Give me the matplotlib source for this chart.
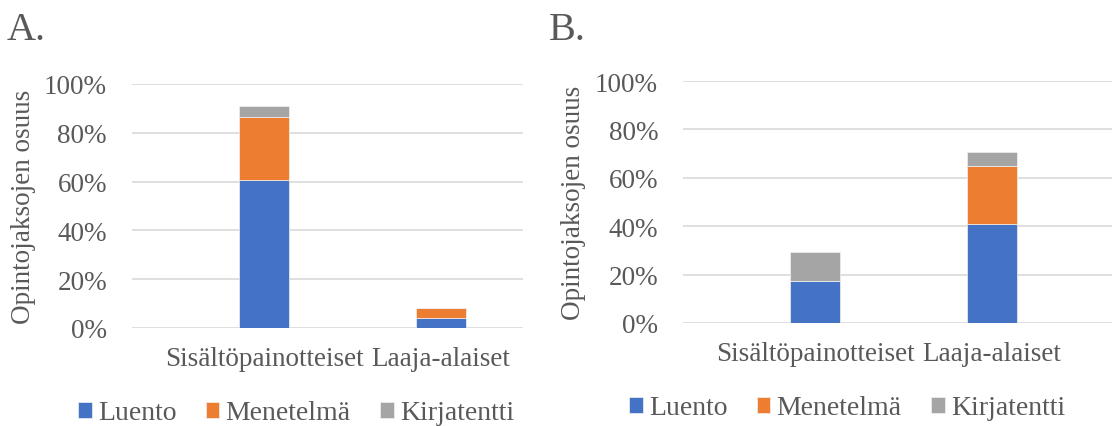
import matplotlib.pyplot as plt
import numpy as np

plt.rcParams["font.family"] = ["Liberation Serif", "DejaVu Serif"]

categories = ["Sisältöpainotteiset", "Laaja-alaiset"]
series = ["Luento", "Menetelmä", "Kirjatentti"]
colors = ["#4472C4", "#ED7D31", "#A5A5A5"]

# Paneeli A (%)
a_luento = [60.5, 4.0]
a_menetelma = [26.0, 4.3]
a_kirjatentti = [4.5, 0.0]

# Paneeli B (%)
b_luento = [17.5, 41.0]
b_menetelma = [0.0, 23.7]
b_kirjatentti = [11.8, 6.0]

W, H = 1114, 427
fig = plt.figure(figsize=(W / 100, H / 100), dpi=100)

txt_col = "#595959"


def panel(rect, center0, values, title, title_x, ylab_x, legend_xy):
    left, top, right, bottom = rect
    ax = fig.add_axes([left / W, 1 - bottom / H, (right - left) / W, (bottom - top) / H])
    x = np.arange(len(categories))
    base = np.zeros(len(categories))
    for name, vals, c in zip(series, values, colors):
        ax.bar(x, vals, 0.277, bottom=base, color=c, label=name,
               edgecolor="#f2f2f2", linewidth=0.5, zorder=3)
        base += np.array(vals)
    ax.set_ylim(0, 100)
    ax.set_yticks(range(0, 101, 20))
    ax.set_yticklabels([f"{v}%" for v in range(0, 101, 20)])
    ax.set_xticks(x)
    ax.set_xticklabels(categories)
    # pylväiden väli on 177 px
    step = 177
    ax.set_xlim((left - center0) / step, (right - center0) / step)
    ax.grid(axis="y", color="#d9d9d9", linewidth=1.2, zorder=0)
    for s in ax.spines.values():
        s.set_visible(False)
    ax.tick_params(axis="both", length=0, labelsize=19.5, labelcolor=txt_col)
    ax.tick_params(axis="y", pad=18)
    ax.tick_params(axis="x", pad=13)
    fig.text(ylab_x / W, 1 - (top + bottom) / 2 / H, "Opintojaksojen osuus",
             rotation=90, ha="center", va="center", fontsize=19.5, color=txt_col)
    fig.text(title_x / W, 1 - 30 / H, title, ha="left", va="center",
             fontsize=29, color=txt_col)
    ax.legend(loc="center", bbox_to_anchor=(legend_xy[0] / W, 1 - legend_xy[1] / H),
              bbox_transform=fig.transFigure, ncol=3, frameon=False, fontsize=20,
              handlelength=0.5, handleheight=0.5, handletextpad=0.22, columnspacing=1.05,
              labelcolor=txt_col)
    return ax


panel((132, 85, 523, 329), 264, [a_luento, a_menetelma, a_kirjatentti], "A.", 7, 23, (296, 414))
panel((683, 82, 1112, 324), 815, [b_luento, b_menetelma, b_kirjatentti], "B.", 549, 574, (847, 409))

plt.savefig("out.png", dpi=100)
